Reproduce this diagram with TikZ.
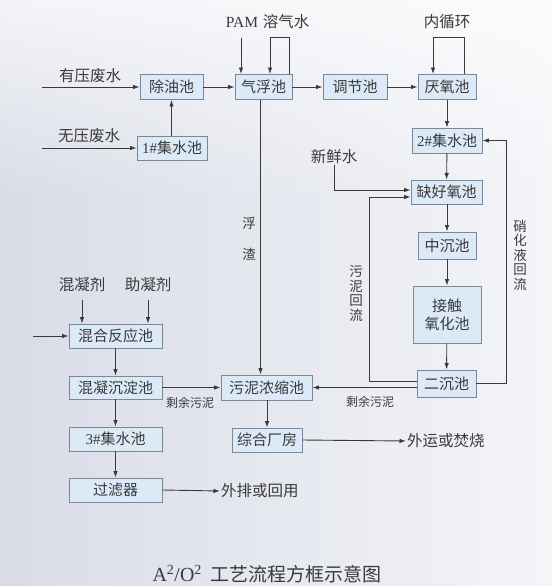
\documentclass[tikz,border=0pt]{standalone}
\usepackage{fontspec}
\setmainfont{Liberation Serif}
\newfontfamily\cjk{Noto Sans CJK SC}
\newfontfamily\lat{Liberation Serif}
\usetikzlibrary{arrows.meta,fadings}
\definecolor{bgA}{HTML}{D9DCE7}
\definecolor{bgB}{HTML}{F4F5F9}
\definecolor{boxfill}{HTML}{DCEAF7}
\definecolor{boxline}{HTML}{7C8896}
\definecolor{ink}{HTML}{3A3A3A}
\tikzset{
  box/.style={draw=boxline, line width=0.9pt, fill=boxfill, inner sep=0pt,
    minimum height=25pt, text=ink, font=\cjk\fontsize{15}{15}\selectfont},
  lbl/.style={text=ink, inner sep=1pt, font=\cjk\fontsize{15.5}{16}\selectfont},
  small/.style={text=ink, inner sep=1pt, font=\cjk\fontsize{12}{13}\selectfont},
  vert/.style={text=ink, inner sep=0pt, align=center, font=\cjk\fontsize{13.5}{14.5}\selectfont},
  arr/.style={draw=ink, line width=0.9pt, -{Latex[length=6.5pt,width=4.5pt]}},
  ln/.style={draw=ink, line width=0.9pt}
}
\begin{document}
\begin{tikzpicture}[x=1pt,y=-1pt]
\useasboundingbox (0,0) rectangle (552,586);
\shade[left color=bgA, right color=bgB] (0,0) rectangle (552,586);
\fill[white, opacity=0.7, path fading=south] (0,0) rectangle (552,200);

% top row
\node[box, minimum width=63pt] (chuyou) at (171.5,87) {除油池};
\node[box, minimum width=57pt] (qifu) at (263.5,87) {气浮池};
\node[box, minimum width=64pt] (tiaojie) at (355,87) {调节池};
\node[box, minimum width=58pt] (yanyang) at (447,87) {厌氧池};
\node[box, minimum width=70pt, minimum height=24pt] (ji1) at (172,148) {{\lat 1\#}集水池};

% right column
\node[box, minimum width=70pt] (ji2) at (447,140.5) {{\lat 2\#}集水池};
\node[box, minimum width=71pt, minimum height=24pt] (quehao) at (446.5,192) {缺好氧池};
\node[box, minimum width=58pt, minimum height=27pt] (zhongchen) at (447,245.5) {中沉池};
\node[box, minimum width=68pt, minimum height=57pt, align=center] (jiechu) at (447,314.5) {接触\\[3pt]氧化池};
\node[box, minimum width=59pt, minimum height=27pt] (erchen) at (446.5,383.5) {二沉池};

% middle
\node[box, minimum width=91pt] (nongsuo) at (266.5,387.5) {污泥浓缩池};
\node[box, minimum width=70pt, minimum height=24pt] (zonghe) at (267,440) {综合厂房};

% left column
\node[box, minimum width=93pt, minimum height=24pt] (hunhe) at (115.5,336) {混合反应池};
\node[box, minimum width=93pt, minimum height=23pt] (hunning) at (115.5,387.5) {混凝沉淀池};
\node[box, minimum width=93pt, minimum height=24pt] (ji3) at (115.5,439) {{\lat 3\#}集水池};
\node[box, minimum width=93pt, minimum height=24pt] (guolv) at (115.5,490) {过滤器};

% labels
\node[lbl] (youya) at (90,76) {有压废水};
\node[lbl] (wuya) at (89,136) {无压废水};
\node[text=ink, font=\lat\fontsize{15.5}{16}\selectfont] (pam) at (242,22) {PAM};
\node[lbl] (rongqi) at (286,22) {溶气水};
\node[lbl] (neixun) at (447,22) {内循环};
\node[lbl] (xinxian) at (334,157) {新鲜水};
\node[lbl] (hunningji) at (82,285) {混凝剂};
\node[lbl] (zhuningji) at (148,285) {助凝剂};
\node[lbl, anchor=west] (waiyun) at (406,441) {外运或焚烧};
\node[lbl, anchor=west] (waipai) at (220,491) {外排或回用};
\node[small] (sy1) at (190,403) {剩余污泥};
\node[small] (sy2) at (370,402) {剩余污泥};
\node[vert] (fu) at (249,223) {浮};
\node[vert] (zha) at (249,254) {渣};
\node[vert] (wnhl) at (356,293.5) {污\\泥\\回\\流};
\node[vert] (xhy) at (520,255) {硝\\化\\液\\回\\流};
\node[text=ink, font=\cjk\fontsize{19}{20}\selectfont] (title) at (267,574)
  {{\lat\fontsize{20}{20}\selectfont A\textsuperscript{2}/O\textsuperscript{2}}\ \ 工艺流程方框示意图};

% inputs
\coordinate (in1) at (42,87);
\coordinate (in2) at (42,148);
\coordinate (in3) at (33,336);
\draw[arr] (in1) -- (chuyou.west);
\draw[arr] (in2) -- (ji1.west);
\draw[arr] (in3) -- (hunhe.west);
\draw[arr] (ji1.north -| chuyou.south) -- (chuyou.south);
\draw[arr] (chuyou) -- (qifu);
\draw[arr] (qifu) -- (tiaojie);
\draw[arr] (tiaojie) -- (yanyang);

% PAM and loops
\coordinate (pamS) at (241,38);
\draw[arr] (pamS) -- (pamS |- qifu.north);
\draw[arr] ([xshift=25.5pt]qifu.north) -- ++(0,-37) -| ([xshift=6.5pt]qifu.north);
\draw[arr] ([xshift=17pt]yanyang.north) -- ++(0,-37) -| ([xshift=-14pt]yanyang.north);

% right column flow
\draw[arr] (yanyang) -- (ji2);
\draw[arr] (ji2) -- (quehao);
\draw[arr] (quehao.south -| zhongchen.north) -- (zhongchen.north);
\draw[arr] (zhongchen) -- (jiechu);
\draw[arr] (jiechu) -- (erchen);
\draw[arr] (erchen.east) -- ++(30,0) |- (ji2.east);
\draw[arr] (xinxian.south) |- ([yshift=2pt]quehao.west);
\draw[arr] ([yshift=2.5pt]erchen.west) -- ++(-47,0) |- ([yshift=-5pt]quehao.west);
\draw[arr] (erchen.west |- nongsuo.east) -- (nongsuo.east);

% middle
\draw[arr] ([xshift=-3pt]qifu.south) -- ([xshift=-3pt]qifu.south |- nongsuo.north);
\draw[arr] (nongsuo.south -| zonghe.north) -- (zonghe.north);
\draw[arr] (zonghe.east) -- (waiyun.west);

% left column
\draw[arr] (hunningji.south |- 0,300) -- (hunningji.south |- hunhe.north);
\draw[arr] (zhuningji.south |- 0,300) -- (zhuningji.south |- hunhe.north);
\draw[arr] (hunhe) -- (hunning);
\draw[arr] (hunning) -- (ji3);
\draw[arr] (ji3) -- (guolv);
\draw[arr] (hunning.east) -- (nongsuo.west);
\draw[arr] (guolv.east) -- (waipai.west);
\end{tikzpicture}
\end{document}
